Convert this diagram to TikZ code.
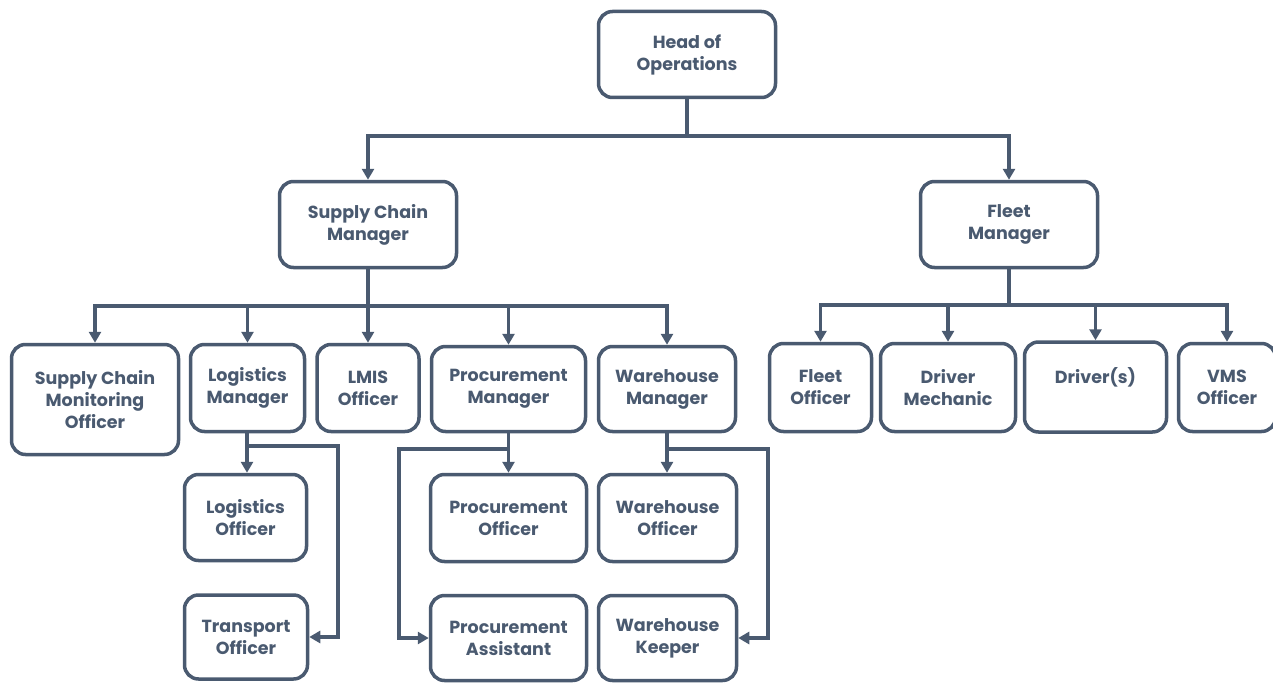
\documentclass[tikz,border=0pt]{standalone}
\usepackage{fontspec}
\setmainfont{Poppins}
\usetikzlibrary{arrows.meta}
\definecolor{slate}{HTML}{4A5A70}
\begin{document}
\begin{tikzpicture}[x=1pt,y=-1pt,
  box/.style={draw=slate,line width=3.5pt,rounded corners=14pt,
    inner sep=0pt,align=center,text=slate,
    font=\fontsize{17.5}{22}\selectfont\bfseries},
  link/.style={draw=slate,line width=3.5pt},
  arr/.style={link,-{Triangle[length=11pt,width=12pt]}}]
\useasboundingbox (0,0) rectangle (1273,682);

% top levels
\node[box,minimum width=177,minimum height=86] (head) at (687,54.5) {Head of\\Operations};
\node[box,minimum width=177,minimum height=86] (scm) at (368,224.5) {Supply Chain\\Manager};
\node[box,minimum width=177,minimum height=86] (fm) at (1009,224.5) {Fleet\\Manager};

% supply chain team
\node[box,minimum width=167,minimum height=110] (scmo) at (95,399.5) {Supply Chain\\Monitoring\\Officer};
\node[box,minimum width=114,minimum height=87] (lm) at (247.5,388) {Logistics\\Manager};
\node[box,minimum width=102,minimum height=87] (lmis) at (368,388) {LMIS\\Officer};
\node[box,minimum width=154,minimum height=85] (pm) at (508.5,389) {Procurement\\Manager};
\node[box,minimum width=137,minimum height=85] (wm) at (667,389) {Warehouse\\Manager};

\node[box,minimum width=122,minimum height=86] (lo) at (245.5,517.5) {Logistics\\Officer};
\node[box,minimum width=123,minimum height=84] (to) at (246,637) {Transport\\Officer};
\node[box,minimum width=156,minimum height=87] (po) at (508.5,518) {Procurement\\Officer};
\node[box,minimum width=156,minimum height=85] (pa) at (508.5,638) {Procurement\\Assistant};
\node[box,minimum width=138,minimum height=87] (wo) at (667.5,518) {Warehouse\\Officer};
\node[box,minimum width=138,minimum height=85] (wk) at (667.5,638) {Warehouse\\Keeper};

% fleet team
\node[box,minimum width=102,minimum height=88] (fo) at (820.5,387.5) {Fleet\\Officer};
\node[box,minimum width=135,minimum height=88] (dm) at (948,387.5) {Driver\\Mechanic};
\node[box,minimum width=142,minimum height=90] (dr) at (1095.5,387) {Driver(s)\\\mbox{}};
\node[box,minimum width=97,minimum height=88] (vms) at (1227,387.5) {VMS\\Officer};

% junction points
\coordinate (j0) at (687,136);
\coordinate (j1) at (368,306);
\coordinate (j2) at (1009,305);
\coordinate (jl) at (247,446);
\coordinate (jlr) at (338,446);
\coordinate (jp) at (508.5,449);
\coordinate (jpl) at (399,449);
\coordinate (jw) at (667,449);
\coordinate (jwr) at (768,449);

% head of operations
\draw[link] (head) -- (j0);
\draw[arr] (j0) -| (scm);
\draw[arr] (j0) -| (fm);

% supply chain manager
\draw[link] (scm) -- (j1);
\draw[arr] (j1) -| (scmo);
\draw[arr] (j1) -| (lm);
\draw[arr] (j1) -- (lmis);
\draw[arr] (j1) -| (pm);
\draw[arr] (j1) -| (wm);

% logistics manager
\draw[link] (lm.south -| jl) -- (jl);
\draw[arr] (jl) -- (lo.north -| jl);
\draw[arr] (jl) -- (jlr) |- (to);

% procurement manager
\draw[link] (pm) -- (jp);
\draw[arr] (jp) -- (po);
\draw[arr] (jp) -- (jpl) |- (pa);

% warehouse manager
\draw[link] (wm) -- (jw);
\draw[arr] (jw) -- (wo.north -| jw);
\draw[arr] (jw) -- (jwr) |- (wk);

% fleet manager
\draw[link] (fm) -- (j2);
\draw[arr] (j2) -| (fo);
\draw[arr] (j2) -| (dm);
\draw[arr] (j2) -| (dr);
\draw[arr] (j2) -| (vms);
\end{tikzpicture}
\end{document}
